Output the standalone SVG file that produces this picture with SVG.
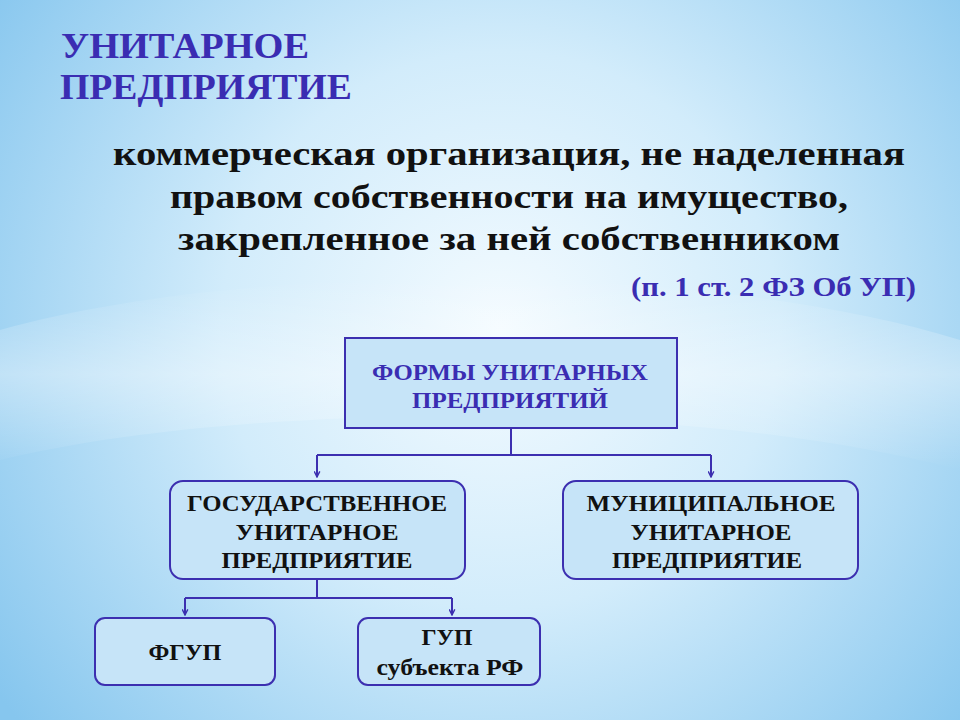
<svg xmlns="http://www.w3.org/2000/svg" width="960" height="720" viewBox="0 0 960 720">
<defs>
<radialGradient id="bg" cx="500" cy="330" r="620" gradientUnits="userSpaceOnUse">
<stop offset="0" stop-color="#f4fbff"/>
<stop offset="0.45" stop-color="#d2ecfb"/>
<stop offset="1" stop-color="#86c6ee"/>
</radialGradient>
<linearGradient id="wave" x1="0" y1="0" x2="0" y2="1">
<stop offset="0" stop-color="#ffffff" stop-opacity="0"/>
<stop offset="0.5" stop-color="#ffffff" stop-opacity="0.35"/>
<stop offset="1" stop-color="#ffffff" stop-opacity="0"/>
</linearGradient>
<marker id="arr" viewBox="0 0 10 10" refX="9" refY="5" markerWidth="7" markerHeight="7" orient="auto" markerUnits="userSpaceOnUse">
<path d="M1,1 L9,5 L1,9" fill="none" stroke="#3c2fb0" stroke-width="2"/>
</marker>
</defs>
<style>
.title{font-family:"Liberation Serif",serif;font-weight:bold;font-size:36px;fill:#3a2db2}
.def{font-family:"Liberation Serif",serif;font-weight:bold;font-size:34px;fill:#111;text-anchor:middle}
.cite{font-family:"Liberation Serif",serif;font-weight:bold;font-size:28px;fill:#3a2db2}
.box{fill:#c6e4f8;stroke:#3c2fb0;stroke-width:2}
.bt{font-family:"Liberation Serif",serif;font-weight:bold;font-size:24px;fill:#111;text-anchor:middle}
.bb{font-family:"Liberation Serif",serif;font-weight:bold;font-size:23px;fill:#3a2db2;text-anchor:middle}
.con{fill:none;stroke:#3c2fb0;stroke-width:2}
</style>
<rect width="960" height="720" fill="url(#bg)"/>
<path d="M0,330 C250,260 700,260 960,340 L960,470 C700,400 250,400 0,460 Z" fill="url(#wave)"/>
<g id="title">
<text class="title" x="61" y="58" textLength="248" lengthAdjust="spacingAndGlyphs">УНИТАРНОЕ</text>
<text class="title" x="60" y="99" textLength="292" lengthAdjust="spacingAndGlyphs">ПРЕДПРИЯТИЕ</text>
</g>
<g id="definition">
<text class="def" x="509" y="165" textLength="792" lengthAdjust="spacingAndGlyphs">коммерческая организация, не наделенная</text>
<text class="def" x="509" y="208" textLength="678" lengthAdjust="spacingAndGlyphs">правом собственности на имущество,</text>
<text class="def" x="509" y="250" textLength="662" lengthAdjust="spacingAndGlyphs">закрепленное за ней собственником</text>
<text class="cite" x="631" y="296" textLength="285" lengthAdjust="spacingAndGlyphs">(п. 1 ст. 2 ФЗ Об УП)</text>
</g>
<g id="connectors">
<path class="con" d="M511,428 V455 M317,455 H711" />
<path class="con" d="M317,455 V477" marker-end="url(#arr)"/>
<path class="con" d="M711,455 V477" marker-end="url(#arr)"/>
<path class="con" d="M317,579 V598 M185,598 H452"/>
<path class="con" d="M185,598 V615" marker-end="url(#arr)"/>
<path class="con" d="M452,598 V615" marker-end="url(#arr)"/>
</g>
<g id="forms">
<rect class="box" x="345" y="338" width="332" height="90"/>
<text class="bb" x="510" y="380" textLength="276" lengthAdjust="spacingAndGlyphs">ФОРМЫ УНИТАРНЫХ</text>
<text class="bb" x="510" y="408" textLength="196" lengthAdjust="spacingAndGlyphs">ПРЕДПРИЯТИЙ</text>
</g>
<g id="gup">
<rect class="box" x="170" y="481" width="295" height="98" rx="13"/>
<text class="bt" x="317" y="511" textLength="260" lengthAdjust="spacingAndGlyphs">ГОСУДАРСТВЕННОЕ</text>
<text class="bt" x="317" y="540" textLength="163" lengthAdjust="spacingAndGlyphs">УНИТАРНОЕ</text>
<text class="bt" x="317" y="568" textLength="191" lengthAdjust="spacingAndGlyphs">ПРЕДПРИЯТИЕ</text>
</g>
<g id="mup">
<rect class="box" x="563" y="481" width="295" height="98" rx="13"/>
<text class="bt" x="711" y="511" textLength="249" lengthAdjust="spacingAndGlyphs">МУНИЦИПАЛЬНОЕ</text>
<text class="bt" x="711" y="540" textLength="161" lengthAdjust="spacingAndGlyphs">УНИТАРНОЕ</text>
<text class="bt" x="707" y="568" textLength="190" lengthAdjust="spacingAndGlyphs">ПРЕДПРИЯТИЕ</text>
</g>
<g id="fgup">
<rect class="box" x="95" y="618" width="180" height="67" rx="10"/>
<text class="bt" x="185" y="660" textLength="73" lengthAdjust="spacingAndGlyphs">ФГУП</text>
</g>
<g id="gup-rf">
<rect class="box" x="358" y="618" width="182" height="67" rx="10"/>
<text class="bt" x="447" y="645" textLength="51" lengthAdjust="spacingAndGlyphs">ГУП</text>
<text class="bt" x="450" y="675" font-size="23" textLength="147" lengthAdjust="spacingAndGlyphs">субъекта РФ</text>
</g>
</svg>
